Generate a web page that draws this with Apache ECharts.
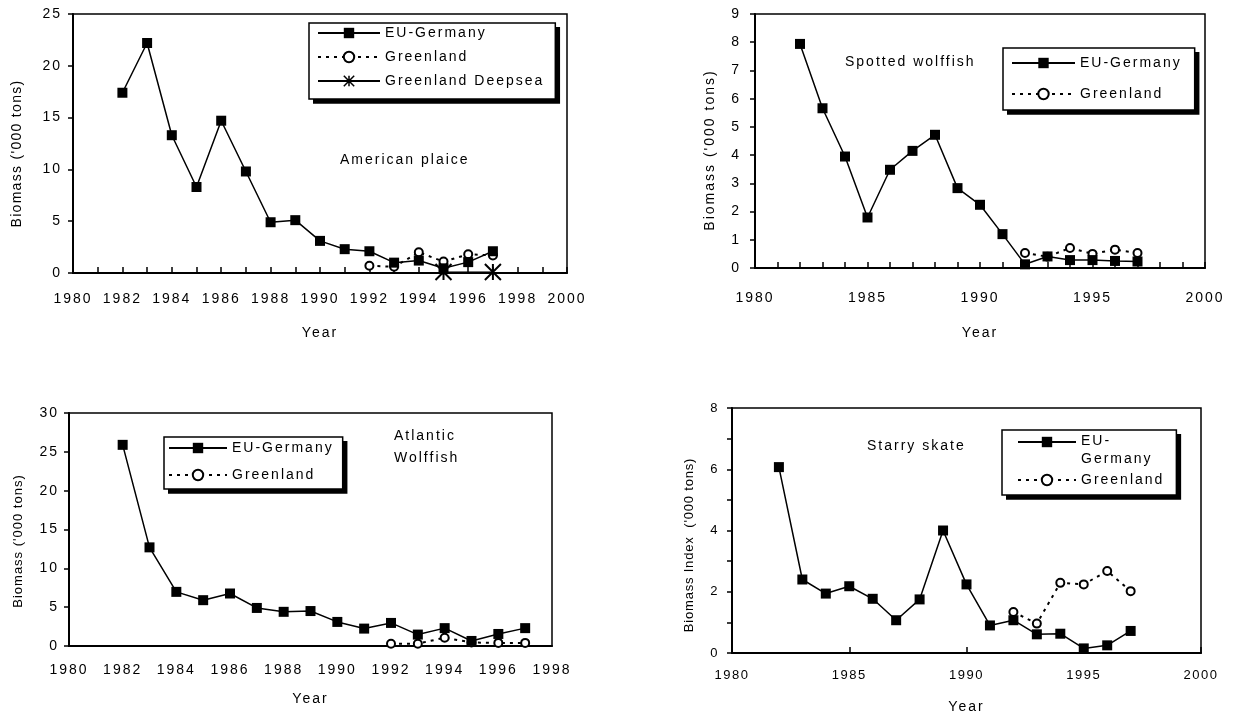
<!DOCTYPE html>
<html><head><meta charset="utf-8">
<script src="https://cdn.jsdelivr.net/npm/echarts@6/dist/echarts.min.js"></script>
<style>html,body{margin:0;padding:0;background:#fff}#c{width:1233px;height:714px}</style>
</head><body><div id="c"></div>
<script>
// Letter spacing control through a marker family name "spNN" (NN = tenths of px)
(function(){
  var proto = CanvasRenderingContext2D.prototype;
  var d = Object.getOwnPropertyDescriptor(proto, 'font');
  if (!d || !('letterSpacing' in proto)) return;
  Object.defineProperty(proto, 'font', {
    configurable: true,
    get: function(){ return d.get.call(this); },
    set: function(v){
      d.set.call(this, v);
      var m = /sp(\d+)/.exec(v);
      this.letterSpacing = m ? (m[1] / 10) + 'px' : '0px';
    }
  });
})();

// ---------------- DATA ----------------
var years = [1982,1983,1984,1985,1986,1987,1988,1989,1990,1991,1992,1993,1994,1995,1996,1997];

// American plaice
var plaiceEU   = [17.4,22.2,13.3,8.3,14.7,9.8,4.9,5.1,3.1,2.3,2.1,1.0,1.2,0.45,1.05,2.1];
var plaiceGL   = [null,null,null,null,null,null,null,null,null,null,0.7,0.6,2.0,1.1,1.8,1.7];
var plaiceDeep = [null,null,null,null,null,null,null,null,null,null,null,null,null,0.1,null,0.1];

// Spotted wolffish
var spottedEU = [7.94,5.66,3.95,1.79,3.48,4.15,4.72,2.83,2.24,1.2,0.13,0.41,0.28,0.28,0.25,0.23];
var spottedGL = [null,null,null,null,null,null,null,null,null,null,0.53,0.4,0.71,0.5,0.65,0.53];

// Atlantic wolffish
var atlanticEU = [25.9,12.7,6.97,5.9,6.76,4.9,4.4,4.5,3.1,2.24,2.97,1.47,2.3,0.65,1.55,2.3];
var atlanticGL = [null,null,null,null,null,null,null,null,null,null,0.3,0.3,1.07,0.45,0.4,0.4];

// Starry skate
var starryEU = [6.07,2.4,1.94,2.18,1.77,1.07,1.75,4.0,2.24,0.9,1.07,0.61,0.63,0.15,0.25,0.72];
var starryGL = [null,null,null,null,null,null,null,null,null,null,1.34,0.96,2.29,2.24,2.68,2.02];

var panelTitles = ['American plaice', 'Spotted wolffish', 'Atlantic\nWolffish', 'Starry skate'];
var seriesNames = ['EU-Germany', 'Greenland', 'Greenland Deepsea'];
var xName = 'Year';
var yNames = ["Biomass ('000 tons)", "Biomass ('000 tons)", "Biomass ('000 tons)", "Biomass Index  ('000 tons)"];

// ---------------- STYLE ----------------
function fam(sp){ return 'sp' + sp + ", 'Liberation Sans', Arial, sans-serif"; }
var F = fam(20);

function pairs(vals){ return years.map(function(y, i){ return [y, vals[i]]; }); }

function euSeries(gi, vals){
  return {type:'line', name:seriesNames[0], xAxisIndex:gi, yAxisIndex:gi, data:pairs(vals),
    symbol:'rect', symbolSize:10, z:5,
    lineStyle:{color:'#000', width:1.5}, itemStyle:{color:'#000'}};
}
function glSeries(gi, vals){
  return {type:'line', name:seriesNames[1], xAxisIndex:gi, yAxisIndex:gi, data:pairs(vals),
    symbol:'emptyCircle', symbolSize:8, z:3,
    lineStyle:{color:'#000', width:2, type:[3,5]}, itemStyle:{color:'#000', borderColor:'#000', borderWidth:2}};
}
function deepSeries(gi, vals){
  return {type:'line', name:seriesNames[2], xAxisIndex:gi, yAxisIndex:gi, data:pairs(vals),
    connectNulls:true, symbol:'path://M0 0L10 10M10 0L0 10M5 0L5 10', symbolSize:16, z:6,
    lineStyle:{color:'#000', width:1}, itemStyle:{color:'#000', borderColor:'#000', borderWidth:2}};
}

function xAx(gi, max, interval, minorSplit, tickShow, margin, nameGap, fs, ffam){
  return {gridIndex:gi, type:'value', min:1980, max:max, interval:interval,
    axisLine:{show:true, onZero:false, lineStyle:{color:'#000', width:2}},
    axisTick:{show:tickShow, inside:true, length:6, lineStyle:{color:'#000', width:1.5}},
    minorTick:{show:tickShow && minorSplit > 1, splitNumber:minorSplit, length:6, lineStyle:{color:'#000', width:1.5}},
    splitLine:{show:false}, minorSplitLine:{show:false},
    axisLabel:{color:'#000', fontSize:fs, fontFamily:ffam, margin:margin, formatter:function(v){ return String(v); }},
    name:xName, nameLocation:'middle', nameGap:nameGap,
    nameTextStyle:{color:'#000', fontSize:14, fontFamily:F}};
}
function yAx(gi, max, interval, minorSplit, margin, name, nameGap, nfs, nfam, npad, fs, ffam){
  return {gridIndex:gi, type:'value', min:0, max:max, interval:interval,
    axisLine:{show:true, onZero:false, lineStyle:{color:'#000', width:2}},
    axisTick:{show:true, inside:false, length:5, lineStyle:{color:'#000', width:1.5}},
    minorTick:{show:minorSplit > 1, splitNumber:minorSplit, length:5, lineStyle:{color:'#000', width:1.5}},
    splitLine:{show:false}, minorSplitLine:{show:false},
    axisLabel:{color:'#000', fontSize:fs, fontFamily:ffam, margin:margin},
    name:name, nameLocation:'middle', nameGap:nameGap,
    nameTextStyle:{color:'#000', fontSize:nfs, fontFamily:nfam, padding:npad}};
}
function legendBox(left, top, itemWidth, itemGap, padding, names, lineHeight, extra){
  var o = {orient:'vertical', left:left, top:top, itemWidth:itemWidth, itemHeight:13, itemGap:itemGap,
    padding:padding, selectedMode:false, data:names, z:4,
    textStyle:{color:'#000', fontSize:14, fontFamily:F, lineHeight:lineHeight},
    backgroundColor:'#fff', borderColor:'#000', borderWidth:1.5};
  if (extra) for (var k in extra) o[k] = extra[k];
  return o;
}
function titleAt(text, left, top, lh){
  return {text:text, left:left, top:top, padding:0,
    textStyle:{color:'#000', fontSize:14, fontWeight:'normal', fontFamily:F, lineHeight:lh}};
}
function gridAt(l, t, w, h){
  return {left:l, top:t, width:w, height:h, containLabel:false, outerBoundsMode:'none',
    show:true, borderColor:'#000', borderWidth:1.5, backgroundColor:'transparent'};
}

var option = {
  animation:false,
  backgroundColor:'#fff',
  grid:[ gridAt(73, 14, 494, 259), gridAt(755, 14, 450, 254), gridAt(69, 413, 483, 233), gridAt(732, 408, 469, 245) ],
  xAxis:[
    xAx(0, 2000, 2, 2, true, 18, 52, 14, F),
    xAx(1, 2000, 5, 5, true, 22, 57, 14, F),
    xAx(2, 1998, 2, 1, false, 16, 45, 14, F),
    xAx(3, 2000, 5, 1, true, 15, 46, 13, fam(15))
  ],
  yAxis:[
    yAx(0, 25, 5, 1, 11, yNames[0], 48, 14, fam(13), [0,20,0,0], 14, F),
    yAx(1, 9, 1, 1, 14, yNames[1], 37, 14, fam(20), [0,18,0,0], 14, F),
    yAx(2, 30, 5, 1, 10, yNames[2], 44, 13, fam(10), [0,23,0,0], 14, F),
    yAx(3, 8, 2, 2, 13, yNames[3], 36, 13, fam(8), [0,29,0,0], 13, fam(15))
  ],
  title:[
    titleAt(panelTitles[0], 340, 152, 16),
    titleAt(panelTitles[1], 845, 54, 16),
    titleAt(panelTitles[2], 394, 425, 22),
    titleAt(panelTitles[3], 867, 438, 16)
  ],
  legend:[
    legendBox(309, 23, 62, 8, [2,11,10,8],
      [{name:seriesNames[0]}, {name:seriesNames[1]}, {name:seriesNames[2], itemStyle:{color:'#000', borderColor:'#000', borderWidth:1.5}}], 16),
    legendBox(1003, 48, 63, 15, [7,13,8,8], [{name:seriesNames[0]}, {name:seriesNames[1]}], 16),
    legendBox(164, 437, 58, 11, [3,9,6,4], [{name:seriesNames[0]}, {name:seriesNames[1]}], 16),
    legendBox(1002, 430, 58, 4, [2,12,6,15], [{name:seriesNames[0]}, {name:seriesNames[1]}], 18, {
      formatter:function(n){ return n === 'EU-Germany' ? '{a|EU-}\n{b|Germany}' : n; },
      textStyle:{color:'#000', fontSize:14, fontFamily:F, lineHeight:18,
        rich:{
          a:{color:'#000', fontSize:14, fontFamily:F, lineHeight:19},
          b:{color:'#000', fontSize:14, fontFamily:F, lineHeight:1, verticalAlign:'top'}
        }}
    })
  ],
  series:[
    euSeries(0, plaiceEU), glSeries(0, plaiceGL), deepSeries(0, plaiceDeep),
    euSeries(1, spottedEU), glSeries(1, spottedGL),
    euSeries(2, atlanticEU), glSeries(2, atlanticGL),
    euSeries(3, starryEU), glSeries(3, starryGL)
  ]
};

var chart = echarts.init(document.getElementById('c'), null, {renderer:'canvas'});
chart.setOption(option);

// Solid drop shadow behind each legend box (offset 4px), taken from the rendered legend boxes
try {
  var shadows = [];
  chart.getModel().eachComponent('legend', function(m){
    var v = chart.getViewOfComponentModel ? chart.getViewOfComponentModel(m) : null;
    if (!v) return;
    var bg = v._backgroundEl, r;
    if (bg && bg.shape) r = {x: bg.shape.x, y: bg.shape.y, width: bg.shape.width, height: bg.shape.height};
    else r = v.group.getBoundingRect();
    shadows.push({type:'rect', z:3, silent:true,
      shape:{x: v.group.x + r.x + 4, y: v.group.y + r.y + 4, width: r.width + 0.75, height: r.height + 0.75},
      style:{fill:'#000'}});
  });
  if (shadows.length) chart.setOption({graphic: shadows});
} catch (e) { console.error(e); }
</script>
</body></html>
